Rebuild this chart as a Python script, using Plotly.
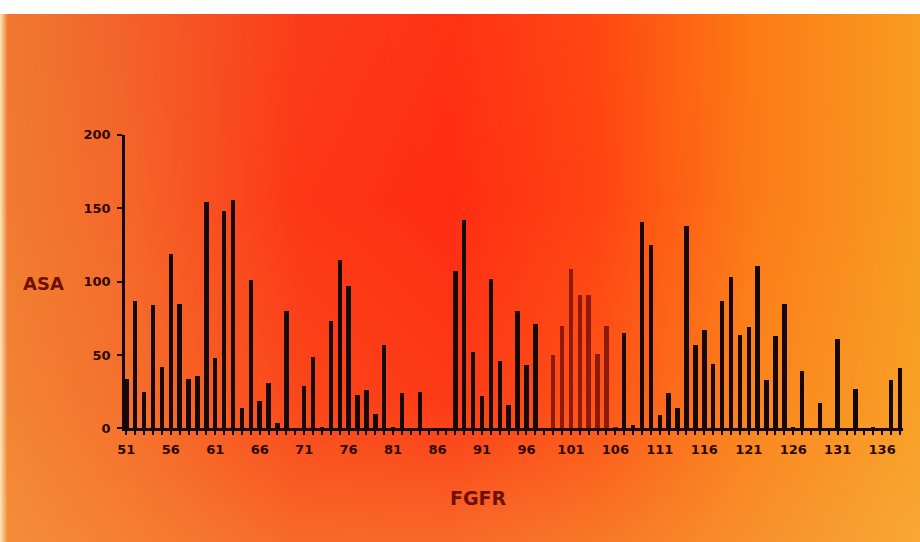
import base64
import struct
import zlib

import numpy as np
import plotly.graph_objects as go

# Solvent accessible surface area per FGFR residue
residues = list(range(51, 139))
asa = [
    34, 87, 25, 84, 42, 119, 85, 34, 36, 154,    # 51-60
    48, 148, 156, 14, 101, 19, 31, 4, 80, 0,     # 61-70
    29, 49, 1, 73, 115, 97, 23, 26, 10, 57,      # 71-80
    1, 24, 0, 25, 0, 0, 0, 107, 142, 52,         # 81-90
    22, 102, 46, 16, 80, 43, 71, 0, 50, 70,      # 91-100
    109, 91, 91, 51, 70, 1, 65, 2, 141, 125,     # 101-110
    9, 24, 14, 138, 57, 67, 44, 87, 103, 64,     # 111-120
    69, 111, 33, 63, 85, 1, 39, 0, 17, 0,        # 121-130
    61, 0, 27, 0, 1, 0, 33, 41,                  # 131-138
]
highlighted = [99, 100, 101, 102, 103, 104, 105, 106]
y_ticks = [0, 50, 100, 150, 200]

W, H = 920, 542
BAR = "#160805"
BAR_HI = "#8e1a0c"
TEXT = "#2e0804"
TITLE = "#6e1006"


def hex_rgb(h):
    h = h.lstrip("#")
    return [int(h[i:i + 2], 16) for i in (0, 2, 4)]


# Warm backdrop: colour stops on a coarse grid, blended bilinearly
grad_x = [0, 120, 300, 450, 600, 750, 920]
grad_y = [14, 200, 400, 542]
grad_rows = [
    ["#ef7a30", "#f2632a", "#fb3c1a", "#ff3214", "#ff4812", "#fd7a14", "#f89c22"],
    ["#f07c30", "#f4682a", "#fd3616", "#ff2c12", "#ff4412", "#fc7a16", "#f89c22"],
    ["#f28434", "#f4722c", "#fb461a", "#fd3a16", "#fd5418", "#fb841c", "#f8a026"],
    ["#f48e3a", "#f58032", "#f76a28", "#f86a28", "#f87828", "#f8902c", "#f8a834"],
]


def backdrop():
    xs = np.arange(W, dtype=float)
    ys = np.arange(H, dtype=float)
    stops = np.array([[hex_rgb(c) for c in row] for row in grad_rows], float)
    # interpolate each stop row across the width
    rows = np.stack([
        np.stack([np.interp(xs, grad_x, stops[j, :, k]) for k in range(3)], -1)
        for j in range(len(grad_y))
    ])  # (ny, W, 3)
    # then down the height
    gy = np.array(grad_y, float)
    idx = np.clip(np.searchsorted(gy, ys, side="right") - 1, 0, len(gy) - 2)
    t = np.clip((ys - gy[idx]) / (gy[idx + 1] - gy[idx]), 0, 1)[:, None, None]
    img = rows[idx] * (1 - t) + rows[idx + 1] * t
    pale = np.array(hex_rgb("#fbe0b0"), float)
    edge = np.clip((7 - xs) / 7.0, 0, 1)[None, :, None]
    img = img * (1 - edge) + pale * edge
    img[:14] = 255
    return np.clip(np.round(img), 0, 255).astype(np.uint8)


def png_uri(rgb):
    h, w, _ = rgb.shape
    flat = rgb.reshape(h, w * 3).astype(np.int16)
    sub = flat.copy()
    sub[:, 3:] = (flat[:, 3:] - flat[:, :-3]) % 256
    sub = sub.astype(np.uint8)
    raw = b"".join(b"\x01" + sub[r].tobytes() for r in range(h))

    def chunk(tag, data):
        c = struct.pack(">I", len(data)) + tag + data
        return c + struct.pack(">I", zlib.crc32(tag + data) & 0xFFFFFFFF)

    png = b"\x89PNG\r\n\x1a\n"
    png += chunk(b"IHDR", struct.pack(">IIBBBBB", w, h, 8, 2, 0, 0, 0))
    png += chunk(b"IDAT", zlib.compress(raw, 9))
    png += chunk(b"IEND", b"")
    return "data:image/png;base64," + base64.b64encode(png).decode()


colors = [BAR_HI if r in highlighted else BAR for r in residues]

fig = go.Figure(
    go.Bar(
        x=residues,
        y=asa,
        width=0.5,
        marker=dict(color=colors, line=dict(width=0)),
        hoverinfo="x+y",
    )
)

L, R = 125, 903
B, T = 428.3, 134.9
tick_font = dict(family="DejaVu Sans", size=13, color=TEXT, weight="bold")

fig.update_layout(
    width=W,
    height=H,
    margin=dict(l=0, r=0, t=0, b=0),
    paper_bgcolor="#f86a28",
    plot_bgcolor="rgba(0,0,0,0)",
    showlegend=False,
    bargap=0,
    images=[dict(
        source=png_uri(backdrop()), xref="paper", yref="paper",
        x=0, y=1, sizex=1, sizey=1, xanchor="left", yanchor="top",
        sizing="stretch", layer="below",
    )],
    xaxis=dict(
        domain=[L / W, R / W],
        range=[50.85, 138.35],
        tickmode="linear", tick0=51, dtick=5,
        ticks="outside", ticklen=4, tickwidth=2, tickcolor=BAR,
        minor=dict(tick0=51, dtick=1, ticks="outside", ticklen=4,
                   tickwidth=2, tickcolor=BAR),
        showline=True, linewidth=3, linecolor=BAR,
        showgrid=False, zeroline=False, automargin=False,
        tickfont=tick_font, ticklabelstandoff=3,
    ),
    yaxis=dict(
        domain=[1 - B / H, 1 - T / H],
        range=[0, 200],
        tickvals=y_ticks,
        ticks="outside", ticklen=5, tickwidth=2, tickcolor=BAR,
        showline=True, linewidth=2.5, linecolor=BAR,
        showgrid=False, zeroline=False, automargin=False,
        tickfont=tick_font, ticklabelstandoff=4,
    ),
    annotations=[
        dict(text="ASA", xref="paper", yref="paper", x=43 / W, y=1 - 283 / H,
             showarrow=False, xanchor="center", yanchor="middle",
             font=dict(family="DejaVu Sans", size=18, color=TITLE, weight="bold")),
        dict(text="FGFR", xref="paper", yref="paper", x=478 / W, y=1 - 498 / H,
             showarrow=False, xanchor="center", yanchor="middle",
             font=dict(family="DejaVu Sans", size=19, color=TITLE, weight="bold")),
    ],
)

fig.write_html("out.html")
